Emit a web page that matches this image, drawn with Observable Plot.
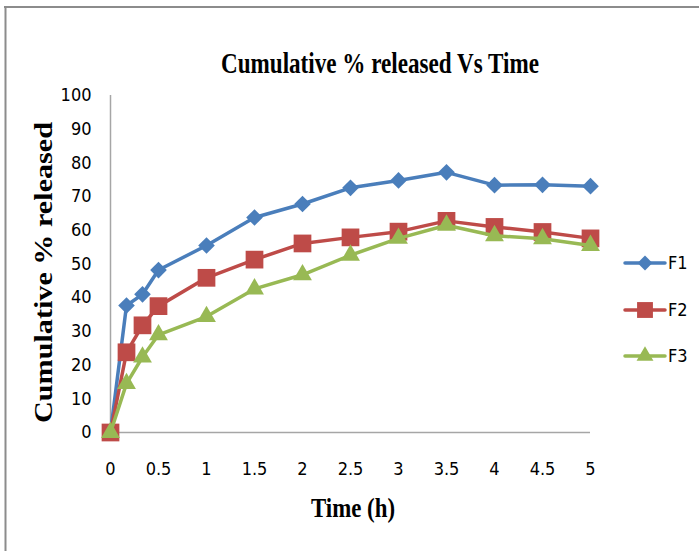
<!DOCTYPE html>
<html>
<head>
<meta charset="utf-8">
<script src="https://cdn.jsdelivr.net/npm/d3@7"></script>
<script src="https://cdn.jsdelivr.net/npm/@observablehq/plot@0.6"></script>
<style>
  html, body { margin: 0; padding: 0; background: #fff; }
  #chart { width: 699px; height: 551px; overflow: hidden; }
</style>
</head>
<body>
<div id="chart"></div>
<script>
// ---- data ----
const time = [0, 0.1667, 0.3333, 0.5, 1, 1.5, 2, 2.5, 3, 3.5, 4, 4.5, 5];
const seriesNames = ["F1", "F2", "F3"];
const F1 = [0, 37.7, 41.0, 48.2, 55.5, 63.8, 67.8, 72.6, 74.8, 77.2, 73.4, 73.5, 73.1];
const F2 = [0, 23.8, 31.8, 37.5, 45.9, 51.3, 56.1, 57.9, 59.6, 62.8, 61.0, 59.5, 57.6];
const F3 = [0, 14.5, 22.4, 29.0, 34.4, 42.6, 46.8, 52.6, 57.6, 61.5, 58.4, 57.5, 55.5];
const xTicks = [0, 0.5, 1, 1.5, 2, 2.5, 3, 3.5, 4, 4.5, 5];
const yTicks = [0, 10, 20, 30, 40, 50, 60, 70, 80, 90, 100];
const titleText = "Cumulative % released Vs Time";
const xLabel = "Time (h)";
const yLabel = "Cumulative % released";

// ---- styles ----
const colors = {F1: "#4A7EBB", F2: "#BE4B48", F3: "#98B954"};
const symbols = {F1: "diamond2", F2: "square", F3: "triangle"};
const radii = {F1: 7.5, F2: 10, F3: 7};
const tickFont = "'Liberation Sans Narrow', 'DejaVu Sans Condensed', 'Noto Sans', sans-serif";
const serif = "'Liberation Serif', 'DejaVu Serif', serif";

const valuesBySeries = {F1, F2, F3};
const rows = seriesNames.map(name => time.map((t, i) => ({series: name, time: t, value: valuesBySeries[name][i]})));

const marks = [
  Plot.ruleX([0], {stroke: "#A6A6A6", strokeWidth: 1.5}),
  Plot.ruleY([0], {stroke: "#A6A6A6", strokeWidth: 1.5}),
  Plot.axisX({ticks: xTicks, tickSize: 0, tickPadding: 30, label: null, tickFormat: d => String(d), fontSize: 18}),
  Plot.axisY({ticks: yTicks, tickSize: 0, tickPadding: 19, label: null, tickFormat: d => String(d), fontSize: 18})
];
rows.forEach((data, k) => {
  const name = seriesNames[k];
  marks.push(Plot.line(data, {x: "time", y: "value", stroke: colors[name], strokeWidth: 3.5, strokeLinejoin: "round"}));
  marks.push(Plot.dot(data, {x: "time", y: "value", symbol: () => symbols[name], r: radii[name], fill: colors[name], stroke: "none"}));
});

const svg = Plot.plot({
  width: 699,
  height: 551,
  marginLeft: 110,
  marginRight: 109,
  marginTop: 95,
  marginBottom: 119,
  x: {domain: [0, 5]},
  y: {domain: [0, 100]},
  symbol: {type: "identity"},
  style: {fontFamily: tickFont, fontSize: "18px", color: "#000", background: "#fff", overflow: "visible"},
  marks
});
document.getElementById("chart").appendChild(svg);

// ---- decorations: border, title, axis titles, legend ----
const s = d3.select(svg);
s.append("line").attr("x1", 4).attr("x2", 699).attr("y1", 7).attr("y2", 7).attr("stroke", "#8C8C8C").attr("stroke-width", 2);
s.append("line").attr("x1", 5.5).attr("x2", 5.5).attr("y1", 6).attr("y2", 551).attr("stroke", "#8C8C8C").attr("stroke-width", 2);

s.append("text").text(titleText)
  .attr("x", 221).attr("y", 73).attr("text-anchor", "start")
  .attr("font-family", serif).attr("font-weight", "bold").attr("font-size", 29)
  .attr("textLength", 318).attr("lengthAdjust", "spacingAndGlyphs").attr("fill", "#000");

s.append("text").text(xLabel)
  .attr("x", 311).attr("y", 517).attr("text-anchor", "start")
  .attr("font-family", serif).attr("font-weight", "bold").attr("font-size", 27)
  .attr("textLength", 84).attr("lengthAdjust", "spacingAndGlyphs").attr("fill", "#000");

s.append("text").text(yLabel)
  .attr("transform", "translate(52,423) rotate(-90)").attr("text-anchor", "start")
  .attr("x", 0).attr("y", 0)
  .attr("font-family", serif).attr("font-weight", "bold").attr("font-size", 26)
  .attr("textLength", 301).attr("lengthAdjust", "spacingAndGlyphs").attr("fill", "#000");

const legendY = [263, 310, 356];
seriesNames.forEach((name, i) => {
  const g = s.append("g").attr("transform", `translate(0,${legendY[i]})`);
  g.append("line").attr("x1", 625).attr("x2", 665).attr("y1", 0).attr("y2", 0)
    .attr("stroke", colors[name]).attr("stroke-width", 3.5).attr("stroke-linecap", "round");
  const symType = {diamond2: d3.symbolDiamond2, square: d3.symbolSquare, triangle: d3.symbolTriangle}[symbols[name]];
  g.append("path").attr("d", d3.symbol(symType, Math.PI * radii[name] * radii[name] * 0.8)())
    .attr("transform", "translate(645,0)").attr("fill", colors[name]);
  g.append("text").text(name).attr("x", 668).attr("y", 0).attr("dy", "0.35em").attr("text-anchor", "start")
    .attr("font-family", tickFont).attr("font-size", 18).attr("fill", "#000");
});
</script>
</body>
</html>
